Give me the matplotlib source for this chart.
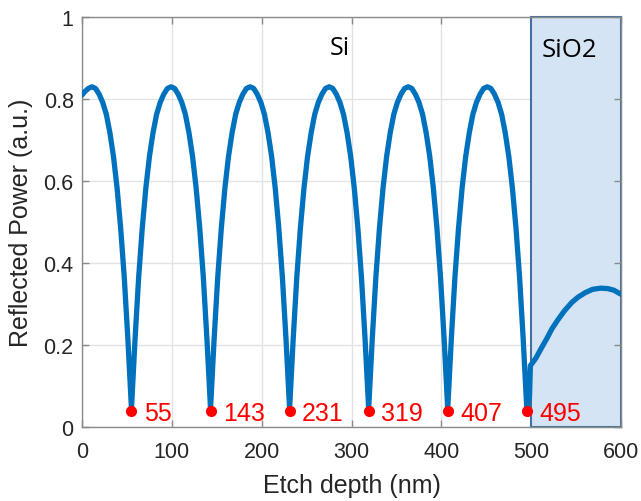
import matplotlib
matplotlib.use("Agg")
import matplotlib.pyplot as plt
from matplotlib.patches import Rectangle

# ---- data ----
si_depth = [0, 3, 7, 11, 15, 19, 23, 27, 31, 35, 39, 43, 47, 51, 53, 55,
            57, 59, 63, 67, 71, 75, 79, 83, 87, 91, 95, 99,
            103, 107, 111, 115, 119, 123, 127, 131, 135, 139, 141, 143,
            145, 147, 151, 155, 159, 163, 167, 171, 175, 179, 183, 187,
            191, 195, 199, 203, 207, 211, 215, 219, 223, 227, 229, 231,
            233, 235, 239, 243, 247, 251, 255, 259, 263, 267, 271, 275,
            279, 283, 287, 291, 295, 299, 303, 307, 311, 315, 317, 319,
            321, 323, 327, 331, 335, 339, 343, 347, 351, 355, 359, 363,
            367, 371, 375, 379, 383, 387, 391, 395, 399, 403, 405, 407,
            409, 411, 415, 419, 423, 427, 431, 435, 439, 443, 447, 451,
            455, 459, 463, 467, 471, 475, 479, 483, 487, 491, 493, 495,
            498]
si_power = [0.810, 0.818, 0.826, 0.830, 0.826, 0.812, 0.792, 0.763, 0.718, 0.660, 0.583, 0.485, 0.365, 0.215, 0.130, 0.045,
            0.130, 0.215, 0.365, 0.485, 0.583, 0.660, 0.718, 0.763, 0.792, 0.812, 0.826, 0.830,
            0.826, 0.812, 0.792, 0.763, 0.718, 0.660, 0.583, 0.485, 0.365, 0.215, 0.130, 0.045,
            0.130, 0.215, 0.365, 0.485, 0.583, 0.660, 0.718, 0.763, 0.792, 0.812, 0.826, 0.830,
            0.826, 0.812, 0.792, 0.763, 0.718, 0.660, 0.583, 0.485, 0.365, 0.215, 0.130, 0.045,
            0.130, 0.215, 0.365, 0.485, 0.583, 0.660, 0.718, 0.763, 0.792, 0.812, 0.826, 0.830,
            0.826, 0.812, 0.792, 0.763, 0.718, 0.660, 0.583, 0.485, 0.365, 0.215, 0.130, 0.045,
            0.130, 0.215, 0.365, 0.485, 0.583, 0.660, 0.718, 0.763, 0.792, 0.812, 0.826, 0.830,
            0.826, 0.812, 0.792, 0.763, 0.718, 0.660, 0.583, 0.485, 0.365, 0.215, 0.130, 0.045,
            0.130, 0.215, 0.365, 0.485, 0.583, 0.660, 0.718, 0.763, 0.792, 0.812, 0.826, 0.830,
            0.826, 0.812, 0.792, 0.763, 0.718, 0.660, 0.583, 0.485, 0.365, 0.215, 0.130, 0.045,
            0.075]
sio2_depth = [499, 505, 511, 517, 523, 530, 537, 545, 552, 560, 568, 577, 585, 592, 600]
sio2_power = [0.150, 0.168, 0.192, 0.215, 0.240, 0.263, 0.284, 0.304, 0.317, 0.328, 0.336, 0.339, 0.338, 0.334, 0.324]

min_depth = [55, 143, 231, 319, 407, 495]
min_power = [0.040, 0.040, 0.040, 0.040, 0.040, 0.040]
min_labels = ["55", "143", "231", "319", "407", "495"]

sio2_start, sio2_end = 500, 600
x_ticks = [0, 100, 200, 300, 400, 500, 600]
y_ticks = [0, 0.2, 0.4, 0.6, 0.8, 1.0]
y_ticklabels = ["0", "0.2", "0.4", "0.6", "0.8", "1"]

# ---- figure ----
plt.rcParams['font.family'] = ['Liberation Sans', 'DejaVu Sans']
fig = plt.figure(figsize=(6.41, 5.02), dpi=100)
ax = fig.add_axes([0.128, 0.147, 0.841, 0.817])

axis_col = '#8a8a8a'
text_col = '#262626'

ax.set_xlim(0, 600)
ax.set_ylim(0, 1)
ax.set_axisbelow(True)
ax.grid(True, color='#e3e3e3', linewidth=1.0)

ax.add_patch(Rectangle((sio2_start, 0), sio2_end - sio2_start, 1.0,
                       facecolor='#d5e4f4', edgecolor='#41719c', linewidth=1.5,
                       zorder=1, clip_on=False))

line_col = '#0072bd'
ax.plot(si_depth + sio2_depth, si_power + sio2_power, color=line_col, linewidth=3.8,
        solid_joinstyle='round', solid_capstyle='round', zorder=3)
ax.plot(min_depth, min_power, 'o', color='#ff0000', markersize=7, zorder=4)
for xd, yd, lab in zip(min_depth, min_power, min_labels):
    ax.annotate(lab, (xd, yd), xytext=(9, 0), textcoords='offset points',
                ha='left', va='center_baseline', color='#ff0000', fontsize=18, zorder=5)

ax.text(287, 0.925, "Si", fontsize=18, family=['Open Sans', 'DejaVu Sans'],
        ha='center', va='center', color='black')
ax.text(512, 0.92, "SiO2", fontsize=18.5, family=['Open Sans', 'DejaVu Sans'],
        ha='left', va='center', color='black')

ax.set_xticks(x_ticks)
ax.set_yticks(y_ticks)
ax.set_yticklabels(y_ticklabels)
ax.tick_params(direction='in', length=5, width=1, color=axis_col, labelcolor=text_col,
               labelsize=15.5, top=True, right=False)
ax.tick_params(axis='x', pad=10)
ax.tick_params(axis='y', pad=6)
for s in ax.spines.values():
    s.set_color(axis_col)
    s.set_linewidth(1.0)

ax.set_xlabel("Etch depth (nm)", fontsize=18, color=text_col, va='top')
ax.xaxis.set_label_coords(0.5, -0.112)
ax.set_ylabel("Reflected Power (a.u.)", fontsize=18, color=text_col)
ax.yaxis.set_label_coords(-0.091, 0.5)

# right-side ticks drawn above the shaded region
ax2 = ax.twinx()
ax2.set_ylim(0, 1)
ax2.set_yticks(y_ticks)
ax2.tick_params(direction='in', length=5, width=1, color=axis_col, labelright=False)
for s in ax2.spines.values():
    s.set_visible(False)

fig.savefig("out.png", dpi=100)
